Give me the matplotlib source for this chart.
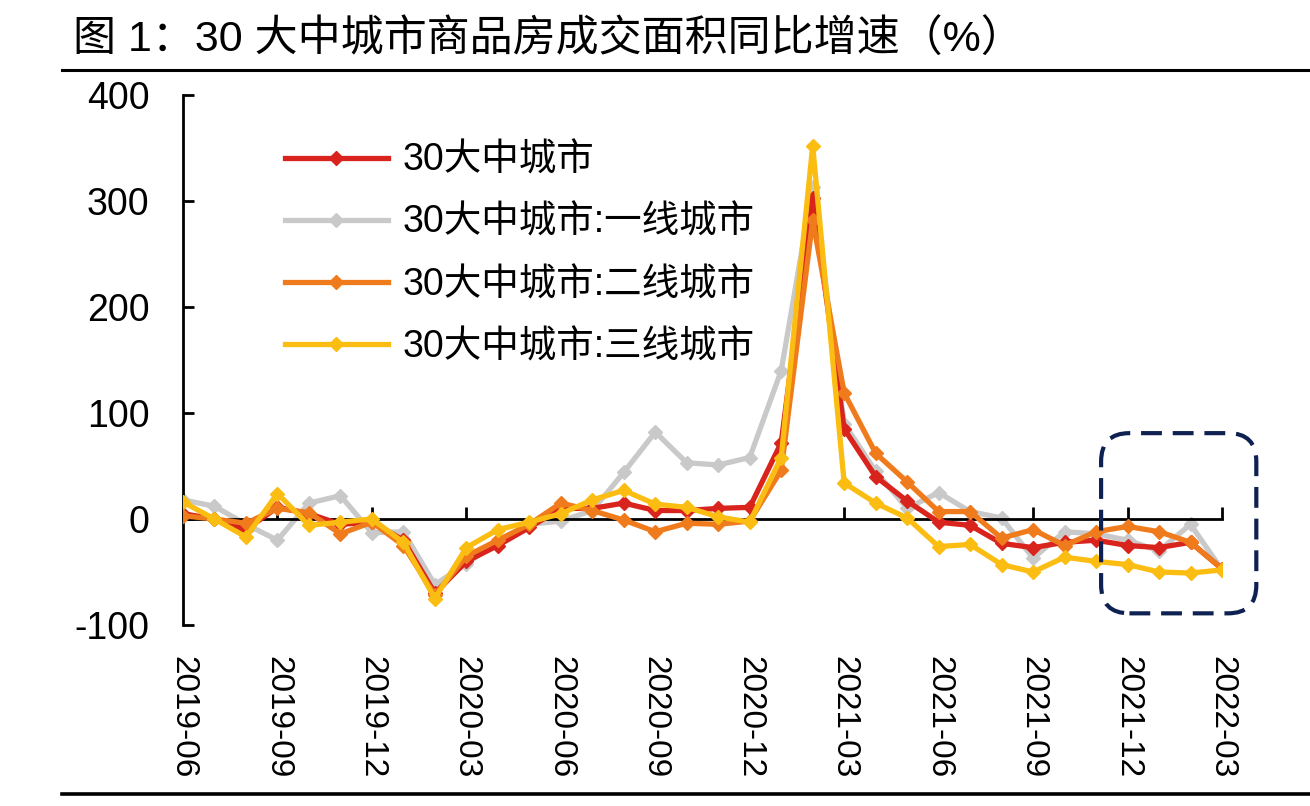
import matplotlib
matplotlib.use('Agg')
import matplotlib.pyplot as plt
from matplotlib.patches import FancyBboxPatch
from matplotlib.lines import Line2D

plt.rcParams['font.family'] = ['Liberation Sans', 'Noto Sans CJK SC', 'DejaVu Sans']
plt.rcParams['axes.unicode_minus'] = False

# ---------------- data ----------------
months = ["2019-06", "2019-07", "2019-08", "2019-09", "2019-10", "2019-11", "2019-12",
          "2020-01", "2020-02", "2020-03", "2020-04", "2020-05", "2020-06", "2020-07",
          "2020-08", "2020-09", "2020-10", "2020-11", "2020-12", "2021-01", "2021-02",
          "2021-03", "2021-04", "2021-05", "2021-06", "2021-07", "2021-08", "2021-09",
          "2021-10", "2021-11", "2021-12", "2022-01", "2022-02", "2022-03"]
tick_labels = ["2019-06", "2019-09", "2019-12", "2020-03", "2020-06", "2020-09",
               "2020-12", "2021-03", "2021-06", "2021-09", "2021-12", "2022-03"]

city30 = [5, 0, -10, 11, 5, -5, -3, -20, -70, -40, -25, -8, 10, 10, 15, 8, 8, 10, 11, 72,
          303, 85, 40, 17, -3, -6, -23, -27, -22, -20, -25, -27, -22, -47]
tier1 = [18, 12, -5, -20, 15, 22, -13, -12, -62, -42, -22, -5, -2, 8, 44, 82, 53, 51, 58, 140,
         313, 90, 45, 10, 25, 7, 1, -37, -12, -14, -20, -30, -5, -48]
tier2 = [3, 0, -4, 10, 6, -14, -3, -25, -72, -35, -20, -5, 15, 8, -1, -12, -4, -5, -2, 46,
         282, 119, 62, 35, 7, 7, -18, -10, -25, -12, -7, -12, -22, -47]
tier3 = [16, 0, -17, 24, -6, -3, 0, -22, -75, -27, -10, -3, 5, 18, 27, 14, 11, 2, -3, 58,
         352, 34, 15, 1, -26, -24, -43, -50, -36, -40, -43, -50, -51, -48]

names = ["30大中城市", "30大中城市:一线城市", "30大中城市:二线城市", "30大中城市:三线城市"]
colors = ["#d9231d", "#c9c9c9", "#f07b1c", "#fbbd12"]
series = [city30, tier1, tier2, tier3]
zorders = [3, 2, 4, 5]

title = "图 1：30 大中城市商品房成交面积同比增速（%）"

# ---------------- figure ----------------
fig = plt.figure(figsize=(13.1, 8.06), dpi=100)
ax = fig.add_axes([183 / 1310, 1 - 625 / 806, (1222 - 183) / 1310, (625 - 95) / 806])

x = list(range(len(months)))
handles = []
for name, vals, c, z in zip(names, series, colors, zorders):
    h, = ax.plot(x, vals, color=c, lw=3.8, marker='D', markersize=7.5,
                 markeredgecolor=c, label=name, zorder=z, solid_joinstyle='round')
    handles.append(h)

ax.set_xlim(0, len(months) - 1)
ax.set_ylim(-100, 400)

for s in ['top', 'right']:
    ax.spines[s].set_visible(False)
ax.spines['left'].set_linewidth(2)
ax.spines['bottom'].set_position(('data', 0))
ax.spines['bottom'].set_linewidth(2)

tick_pos = [months.index(t) for t in tick_labels]
ax.set_xticks(tick_pos)
ax.tick_params(axis='x', direction='in', length=9, width=2, labelbottom=False)
ax.set_yticks([-100, 0, 100, 200, 300, 400])
ax.tick_params(axis='y', direction='in', length=8, width=2, labelsize=27, pad=24)

sec = ax.secondary_xaxis('bottom')
sec.set_xticks(tick_pos, tick_labels)
sec.spines['bottom'].set_visible(False)
sec.tick_params(axis='x', length=0, labelsize=24, pad=22, labelrotation=270)

leg = ax.legend(handles=handles, loc='upper left', bbox_to_anchor=(0.098, 0.91),
                frameon=False, fontsize=27, handlelength=2.75, handletextpad=0.38,
                labelspacing=0.7, borderpad=0, borderaxespad=0)

# dashed highlight box
box = FancyBboxPatch((29.16, -89), 34.09 - 29.16, 81 + 89,
                     boxstyle='round,pad=0,rounding_size=0.9', mutation_aspect=29.7,
                     fill=False, edgecolor='#0f2152', lw=3.0,
                     linestyle=(0, (5, 2.6)), clip_on=False, zorder=6)
ax.add_patch(box)

# title and rules
fig.text(73 / 1310, 1 - 40 / 806, title, fontsize=31, ha='left', va='center')
fig.add_artist(Line2D([62 / 1310, 1], [1 - 70 / 806] * 2, color='black', lw=2.2,
                      transform=fig.transFigure))
fig.add_artist(Line2D([62 / 1310, 1], [1 - 794 / 806] * 2, color='black', lw=2.6,
                      transform=fig.transFigure))

fig.savefig('out.png', dpi=100)
